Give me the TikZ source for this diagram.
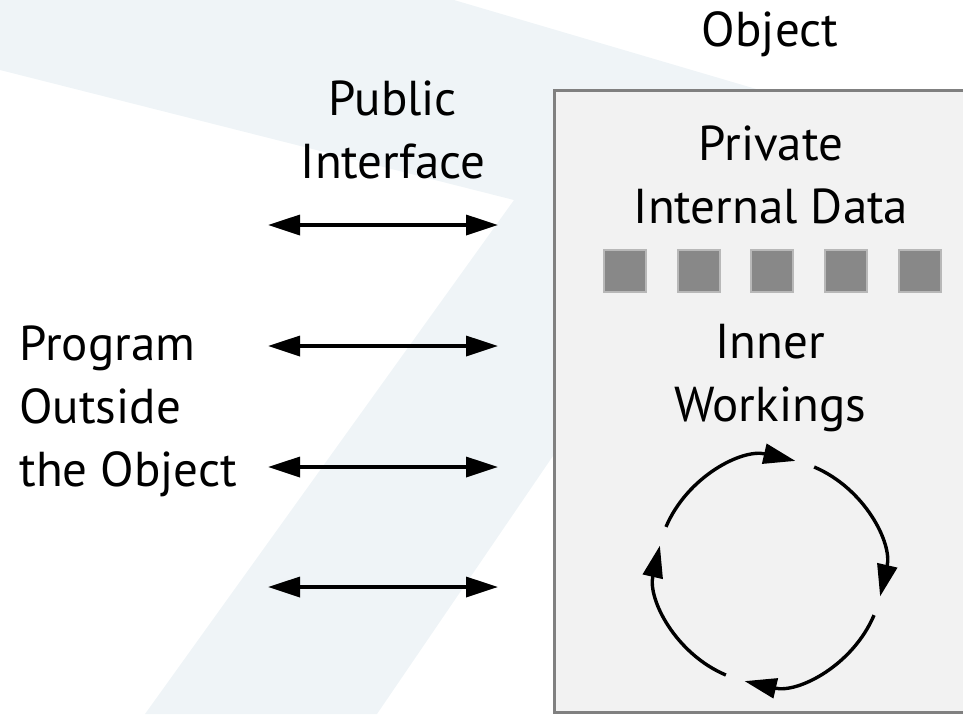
\documentclass[tikz,border=0pt]{standalone}
\usepackage{fontspec}
\setmainfont{PT Sans}
\usetikzlibrary{arrows.meta}
\usetikzlibrary{positioning}
\definecolor{bandblue}{RGB}{239,244,247}
\definecolor{boxgray}{RGB}{242,242,242}
\definecolor{rimgray}{RGB}{128,128,128}
\definecolor{datagray}{RGB}{136,136,136}
\tikzstyle{txt}=[font=\fontsize{24.5}{31.3}\selectfont, align=center,
  inner sep=0pt, anchor=base]
\tikzstyle{objbox}=[rectangle, fill=boxgray, draw=rimgray, line width=1.5pt,
  minimum width=210.5pt, minimum height=311pt, inner sep=0pt]
\tikzstyle{datum}=[rectangle, fill=datagray, draw=datagray!60, line width=1pt,
  minimum size=21pt, inner sep=0pt]
\tikzstyle{arrmsg}=[{Triangle[length=16pt,width=10pt]}-{Triangle[length=16pt,width=10pt]},
  line width=1.7pt]
\tikzstyle{arrcycle}=[-{Triangle[length=16pt,width=10pt]}, line width=1.7pt]

\begin{document}
\begin{tikzpicture}[x=0.5pt, y=-0.5pt]
\useasboundingbox (0,0) rectangle (963,714);

% backdrop band
\fill[bandblue] (0,0) -- (454,0) -- (780,96) -- (600,387) -- (377,714)
  -- (145,714) -- (514,200) -- (0,70) -- cycle;

\node[objbox] (object) at (764.5,401) {};
\node[txt] (objtitle) at (770,46) {Object};

% multi-line labels sit on the baseline of their last line
\node[txt] (private) at (771,223) {Private\\Internal Data};
\foreach \x [count=\i] in {625,698.5,772,846,920}
  \node[datum] (d\i) at (\x,271) {};

\node[txt] (inner) at (770,421) {Inner\\Workings};
\coordinate (wheel) at (770,571);
\foreach \a in {157,67,-23,-113}
  \draw[arrcycle] (wheel) ++(\a:56.5pt) arc[start angle=\a, end angle=\a-80,
    radius=56.5pt];

\node[txt] (public) at (393,178) {Public\\Interface};
\node[txt, align=left, anchor=base west] (program) at (19,486)
  {Program\\Outside\\the Object};

\foreach \y [count=\i] in {225,346,467,587} {
  \coordinate (out\i) at (268,\y);
  \coordinate (in\i) at (498,\y);
  \draw[arrmsg] (out\i) -- (in\i);
}

\end{tikzpicture}
\end{document}
